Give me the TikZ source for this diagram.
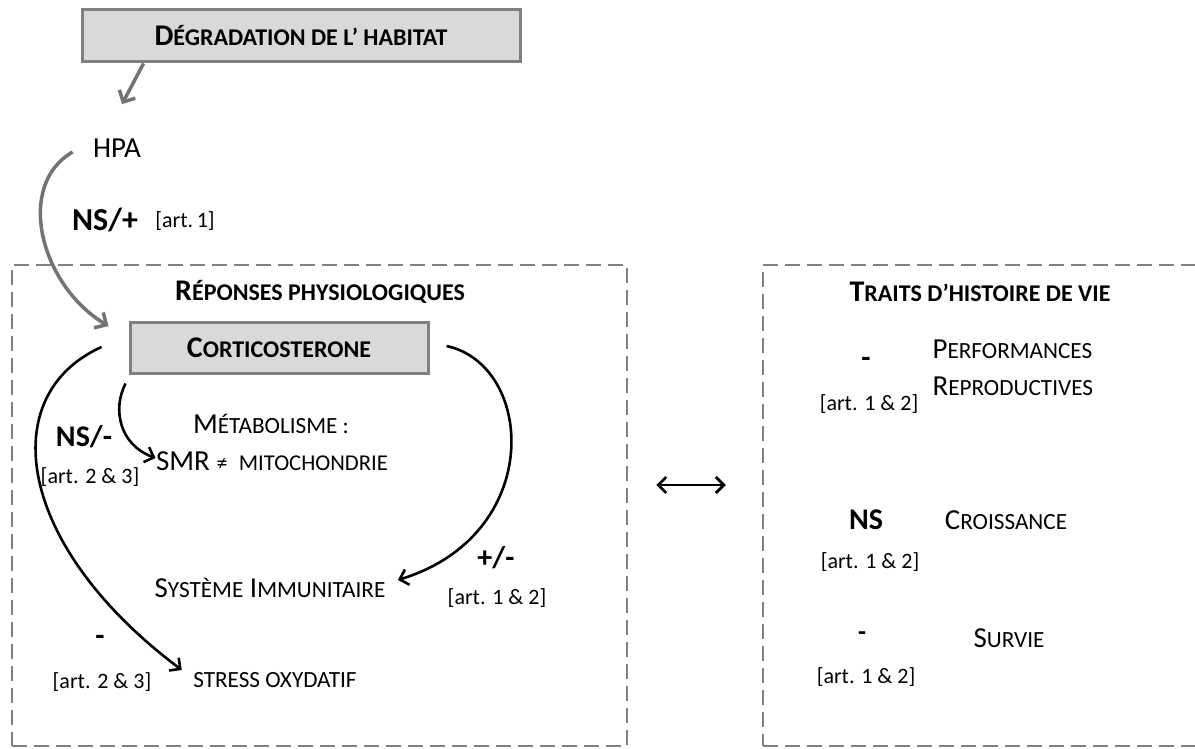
\documentclass[tikz,border=0pt]{standalone}
\usepackage{fontspec}
\setmainfont{Carlito}
\usepackage{tikz}
\usetikzlibrary{arrows.meta,positioning,calc}
\makeatletter
\newcommand{\pc}[1]{{\fontsize{\fpeval{0.8*\f@size}}{\f@baselineskip}\selectfont #1}}
\newcommand{\pcc}[1]{{\fontsize{\fpeval{0.78*\f@size}}{\f@baselineskip}\selectfont #1}}
\makeatother
\newcommand{\fsmain}{\fontsize{29}{37}\selectfont}
\newcommand{\fsref}{\fontsize{22}{26}\selectfont}
\newcommand{\fslbl}{\fontsize{30}{34}\selectfont}
\newcommand{\fstitle}{\fontsize{30}{34}\selectfont}

\begin{document}
\begin{tikzpicture}[x=1pt,y=1pt,
  greybox/.style={draw=gray, fill=gray!30, line width=3pt, font=\fstitle\bfseries},
  dashbox/.style={draw=gray, line width=2.5pt, dash pattern=on 15pt off 7pt},
  greyarrow/.style={draw=gray!90!black, line width=3.5pt, -{Straight Barb[length=9pt,width=18pt]}},
  blackarrow/.style={draw=black, line width=2.6pt, -{Straight Barb[length=8pt,width=16pt]}},
  lbl/.style={font=\fslbl\bfseries},
  ref/.style={font=\fsref},
  item/.style={font=\fsmain}]
\useasboundingbox (0,0) rectangle (1195,-749);

% the two dashed frames
\node[dashbox, minimum width=615pt, minimum height=481pt] (physio) at (319.5,-505.5) {};
\node[dashbox, minimum width=460pt, minimum height=481pt] (traits) at (993,-505.5) {};

% top of the cascade
\node[greybox, minimum width=438pt, minimum height=52pt] (degr) at (301,-36) {D\pc{ÉGRADATION DE L’ HABITAT}};
\node[item] (hpa) at (117,-148) {HPA};
\node[lbl, font=\fontsize{32}{36}\selectfont\bfseries] (nsplus) at (105,-220) {NS/+};
\node[ref] (ref1) at (185,-221) {[art.\,1]};

\draw[greyarrow] ([xshift=63pt]degr.south west) -- ([shift={(5pt,31pt)}]hpa.north);

% physiological responses
\node[font=\fstitle\bfseries] (physiotitle) at (320,-292) {R\pc{ÉPONSES PHYSIOLOGIQUES}};
\node[greybox, minimum width=298pt, minimum height=51pt] (cort) at (279,-347.5) {C\pc{ORTICOSTERONE}};
\node[item] (metab) at (271,-424) {M\pc{ÉTABOLISME :}};
\node[item] (smr) at (272,-461) {SMR {\fontsize{22}{24}\selectfont ≠}\, \pcc{MITOCHONDRIE}};
\node[item] (immun) at (270,-588) {S\pc{YSTÈME} I\pc{MMUNITAIRE}};
\node[item] (stress) at (275,-680) {\pc{STRESS OXYDATIF}};

\node[lbl] (nsminus) at (84,-437) {NS/-};
\node[ref] (ref23a) at (90,-477) {[art. 2 \& 3]};
\node[lbl] (pm) at (496,-558) {+/-};
\node[ref] (ref12a) at (497,-598) {[art. 1 \& 2]};
\node[lbl] (minus) at (100,-640) {-};
\node[ref] (ref23b) at (102,-682) {[art. 2 \& 3]};

\draw[greyarrow] ([shift={(-17pt,-4pt)}]hpa.west) .. controls (15,-185) and (40,-285) .. ([shift={(-20pt,21.5pt)}]cort.west);
\draw[blackarrow] ([shift={(-3pt,-9pt)}]cort.south west) .. controls (112,-410) and (120,-445) .. ([shift={(3pt,3pt)}]smr.west);
\draw[blackarrow] ([shift={(-27pt,0.5pt)}]cort.west) .. controls (-5,-395) and (15,-545) .. ([shift={(-8pt,10pt)}]stress.west);
\draw[blackarrow] ([shift={(17pt,1.5pt)}]cort.east) .. controls (535,-365) and (545,-535) .. ([shift={(9pt,8pt)}]immun.east);

% life history traits
\node[font=\fstitle\bfseries] (traitstitle) at (980,-292) {T\pc{RAITS D’HISTOIRE DE VIE}};
\node[lbl] (perfsign) at (866,-362) {-};
\node[item, anchor=west, align=left] (perf) at (929,-368) {P\pc{ERFORMANCES}\\R\pc{EPRODUCTIVES}};
\node[ref] (ref12b) at (869,-404) {[art. 1 \& 2]};
\node[lbl] (ns) at (866,-520) {NS};
\node[item] (croiss) at (1006,-520) {C\pc{ROISSANCE}};
\node[ref] (ref12c) at (870,-562) {[art. 1 \& 2]};
\node[lbl, font=\fontsize{26}{30}\selectfont\bfseries] (survsign) at (862,-636) {-};
\node[item] (surv) at (1009,-638) {S\pc{URVIE}};
\node[ref] (ref12d) at (866,-677) {[art. 1 \& 2]};

\draw[blackarrow, line width=2.8pt, {Straight Barb[length=8pt,width=16pt]}-{Straight Barb[length=8pt,width=16pt]}] ([shift={(28pt,20.5pt)}]physio.east) -- ([shift={(-36pt,20.5pt)}]traits.west);
\end{tikzpicture}
\end{document}
